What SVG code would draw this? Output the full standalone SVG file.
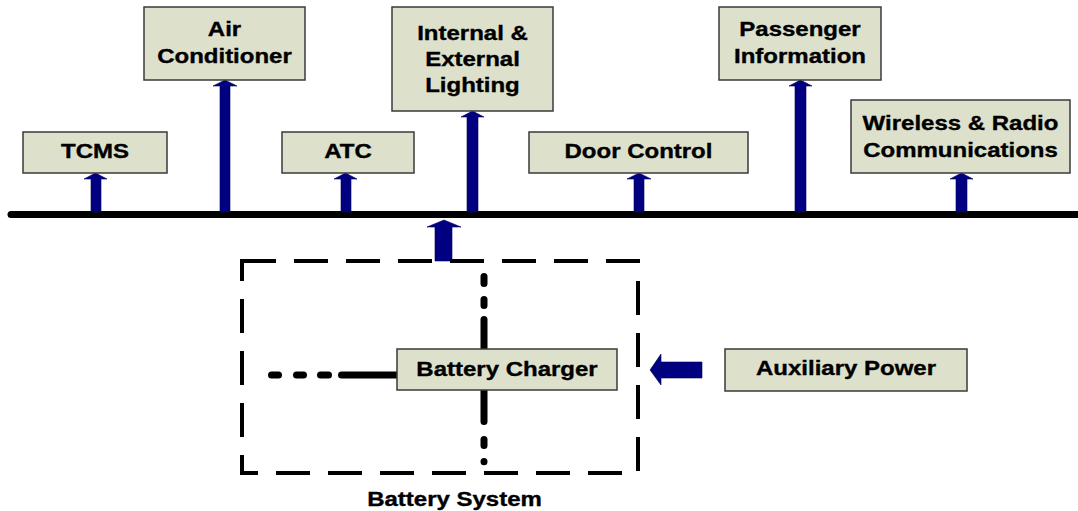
<svg xmlns="http://www.w3.org/2000/svg" width="1078" height="511" viewBox="0 0 1078 511">
<style>
.box{fill:#dde1cc;stroke:#3a3a3a;stroke-width:1.5}
.lbl{font-family:"Liberation Sans",Arial,sans-serif;font-weight:bold;font-size:20px;fill:#000;stroke:#000;stroke-width:0.35;text-anchor:middle}
.arr{fill:#000080;stroke:#00005a;stroke-width:0.6}
.bus{stroke:#000;stroke-width:7;stroke-linecap:round;fill:none}
.dash{stroke:#000;stroke-width:4;fill:none;stroke-dasharray:34 18}
.dd{stroke:#000;stroke-width:7;stroke-linecap:round;fill:none}
</style>
<rect width="1078" height="511" fill="#fff"/>
<g id="connectors">
<line class="bus" x1="11" y1="214.5" x2="1078" y2="214.5"/>
<polygon class="arr" points="91,212 91,179 84,179 95.5,173 107,179 101,179 101,212"/>
<polygon class="arr" points="220,212 220,86 213,86 225,80 237,86 230,86 230,212"/>
<polygon class="arr" points="341,212 341,179 334,179 345.5,173 357,179 351,179 351,212"/>
<polygon class="arr" points="467,212 467,117 461,117 472.5,111 484,117 478,117 478,212"/>
<polygon class="arr" points="634,212 634,179 627,179 639,173 651,179 644,179 644,212"/>
<polygon class="arr" points="795,212 795,86 789,86 800.5,80 812,86 806,86 806,212"/>
<polygon class="arr" points="956,212 956,179 950,179 961.5,173 973,179 967,179 967,212"/>
<polygon class="arr" points="435,261 435,227 427,227 444,220 461,227 452,227 452,261"/>
<polygon class="arr" points="702,362 661,362 661,354 650,370 661,385 661,378 702,378"/>
</g>
<g id="battery-system">
<path class="dash" d="M242,261 H638 V473 H242 Z"/>
<line class="dd" x1="484" y1="276.5" x2="484" y2="283.5"/>
<line class="dd" x1="484" y1="299.5" x2="484" y2="305.5"/>
<line class="dd" x1="484" y1="319.5" x2="484" y2="349"/>
<line class="dd" x1="484" y1="390" x2="484" y2="421.5"/>
<line class="dd" x1="484" y1="439.5" x2="484" y2="445.5"/>
<line class="dd" x1="484" y1="461.5" x2="484" y2="461.7"/>
<line class="dd" x1="271.5" y1="375" x2="278.5" y2="375"/>
<line class="dd" x1="296.5" y1="375" x2="303.5" y2="375"/>
<line class="dd" x1="320.5" y1="375" x2="328.5" y2="375"/>
<line class="dd" x1="341.5" y1="375" x2="397" y2="375"/>
<text class="lbl" transform="scale(1.2 1)" x="378.75" y="506">Battery System</text>
</g>
<g id="tcms"><rect class="box" x="23" y="132" width="144" height="41"/><text class="lbl" transform="scale(1.2 1)" x="79.17" y="158">TCMS</text></g>
<g id="air-conditioner"><rect class="box" x="144" y="7" width="161" height="73"/><text class="lbl" transform="scale(1.2 1)"><tspan x="187.08" y="36">Air</tspan><tspan x="187.08" y="63">Conditioner</tspan></text></g>
<g id="atc"><rect class="box" x="282" y="132" width="132" height="41"/><text class="lbl" transform="scale(1.2 1)" x="290" y="158">ATC</text></g>
<g id="lighting"><rect class="box" x="392" y="7" width="161" height="104"/><text class="lbl" transform="scale(1.2 1)"><tspan x="393.75" y="40">Internal &amp;</tspan><tspan x="393.75" y="66">External</tspan><tspan x="393.75" y="92">Lighting</tspan></text></g>
<g id="door-control"><rect class="box" x="529" y="132" width="219" height="41"/><text class="lbl" transform="scale(1.2 1)" x="532.08" y="158">Door Control</text></g>
<g id="passenger-information"><rect class="box" x="719" y="7" width="162" height="73"/><text class="lbl" transform="scale(1.2 1)"><tspan x="666.67" y="36">Passenger</tspan><tspan x="666.67" y="63">Information</tspan></text></g>
<g id="wireless"><rect class="box" x="851" y="100" width="219" height="73"/><text class="lbl" transform="scale(1.2 1)"><tspan x="800.42" y="130">Wireless &amp; Radio</tspan><tspan x="800.42" y="157">Communications</tspan></text></g>
<g id="battery-charger"><rect class="box" x="397" y="349" width="220" height="41"/><text class="lbl" transform="scale(1.2 1)" x="422.5" y="376">Battery Charger</text></g>
<g id="auxiliary-power"><rect class="box" x="725" y="349" width="242" height="42"/><text class="lbl" transform="scale(1.2 1)" x="705" y="375">Auxiliary Power</text></g>
</svg>
